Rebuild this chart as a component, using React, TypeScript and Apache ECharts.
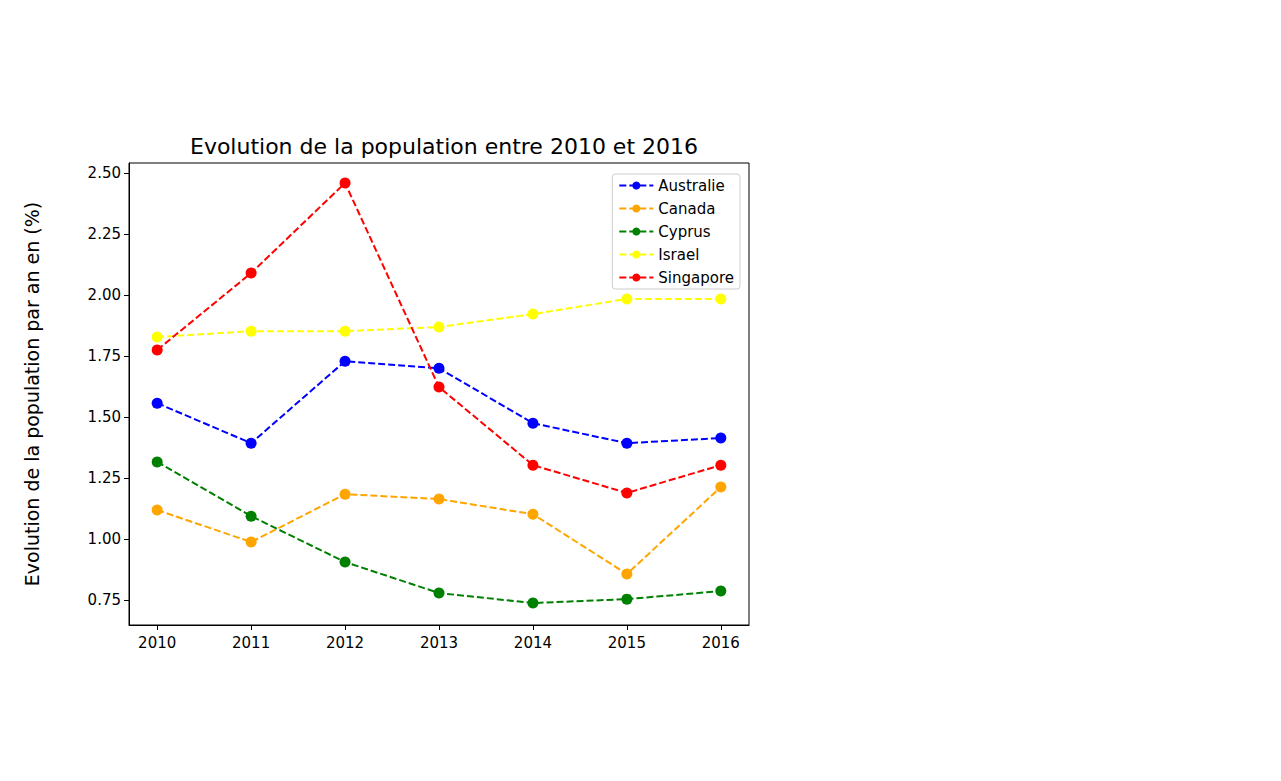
import React, { useEffect, useRef } from "react";
import * as echarts from "echarts";

const years: number[] = [2010, 2011, 2012, 2013, 2014, 2015, 2016];
const australie: number[] = [1.557, 1.393, 1.729, 1.7, 1.475, 1.393, 1.414];
const canada: number[] = [1.119, 0.988, 1.184, 1.164, 1.102, 0.857, 1.213];
const cyprus: number[] = [1.316, 1.094, 0.906, 0.779, 0.738, 0.754, 0.787];
const israel: number[] = [1.828, 1.852, 1.852, 1.869, 1.922, 1.984, 1.984];
const singapore: number[] = [1.775, 2.09, 2.459, 1.623, 1.303, 1.189, 1.303];
const yTicks: number[] = [0.75, 1.0, 1.25, 1.5, 1.75, 2.0, 2.25, 2.5];

const seriesDefs: [string, number[], string][] = [
  ["Australie", australie, "blue"],
  ["Canada", canada, "orange"],
  ["Cyprus", cyprus, "green"],
  ["Israel", israel, "yellow"],
  ["Singapore", singapore, "red"],
];

const App: React.FC = () => {
  const chartRef = useRef<HTMLDivElement | null>(null);

  useEffect(() => {
    document.body.style.margin = "0";
    if (!chartRef.current) return;
    const chart = echarts.init(chartRef.current, null, { renderer: "svg" });
    const font = "DejaVu Sans";
    const option: echarts.EChartsOption = {
      animation: false,
      textStyle: { fontFamily: font },
      title: {
        text: "Evolution de la population entre 2010 et 2016",
        left: 439,
        textAlign: "center",
        top: 130,
        textStyle: { fontSize: 22, fontWeight: "normal", color: "#000", fontFamily: font },
      },
      grid: {
        left: 129, top: 163, width: 620, height: 462,
        show: true, borderColor: "#000", borderWidth: 1, backgroundColor: "transparent",
      },
      legend: {
        orient: "vertical",
        right: 1281 - 740,
        top: 174,
        padding: [4, 6, 4, 6],
        itemGap: 8,
        itemWidth: 34,
        itemHeight: 10,
        backgroundColor: "#fff",
        borderColor: "#ccc",
        borderWidth: 1,
        borderRadius: 3,
        textStyle: { fontSize: 15, color: "#000", fontFamily: font },
      },
      xAxis: {
        type: "value",
        min: 2009.7,
        max: 2016.3,
        splitLine: { show: false },
        axisLine: { show: true, onZero: false, lineStyle: { color: "#000" } },
        axisTick: { show: true, length: 5, customValues: years, lineStyle: { color: "#000" } },
        axisLabel: { customValues: years, fontSize: 15, color: "#000", margin: 10, formatter: (v: number) => String(Math.round(v)) },
      },
      yAxis: {
        type: "value",
        min: 0.648,
        max: 2.541,
        name: "Evolution de la population par an en (%)",
        nameLocation: "middle",
        nameGap: 88,
        nameTextStyle: { fontSize: 19, color: "#000", fontFamily: font },
        splitLine: { show: false },
        axisLine: { show: true, onZero: false, lineStyle: { color: "#000" } },
        axisTick: { show: true, length: 5, customValues: yTicks, lineStyle: { color: "#000" } },
        axisLabel: { customValues: yTicks, fontSize: 15, color: "#000", formatter: (v: number) => v.toFixed(2) },
      },
      series: seriesDefs.map(([name, vals, color]) => ({
        name,
        type: "line",
        data: years.map((y, i) => [y, vals[i]]),
        symbol: "circle",
        symbolSize: 11,
        itemStyle: { color },
        lineStyle: { color, type: [7, 3], width: 2 },
      })),
    };
    chart.setOption(option);
    return () => chart.dispose();
  }, []);

  return <div ref={chartRef} style={{ width: 1281, height: 781 }} />;
};

export default App;
